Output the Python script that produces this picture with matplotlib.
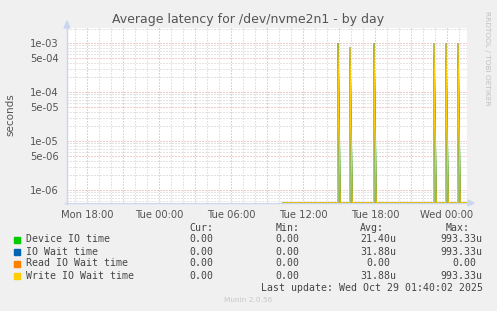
import numpy as np
import matplotlib
matplotlib.use("Agg")
import matplotlib.pyplot as plt
from matplotlib.ticker import FixedLocator, NullFormatter

# ---------------- data (hours since Mon 00:00) ----------------
x_start, x_end = 16 + 20 / 60, 49 + 40 / 60          # Mon 16:20 .. Wed 01:40
data_start = 34 + 20 / 60                            # first stored sample Tue 10:20
spike_hours = [38 + 55/60, 39 + 55/60, 41 + 55/60, 46 + 55/60, 47 + 55/60, 48 + 55/60]
write_peak = [9.93e-4, 8.3e-4, 9.93e-4, 9.93e-4, 9.93e-4, 9.93e-4]
write_tail = [9.0e-7, 9.0e-7, 9.0e-7, 9.0e-7, 9.0e-7, 9.0e-7]
ioWait_peak = write_peak
ioWait_tail = write_tail
device_peak = [9.93e-4, 5.0e-4, 9.93e-4, 6.0e-4, 5.0e-4, 6.0e-4]
device_tail = [1.5e-6, 1.5e-6, 1.5e-6, 1.5e-6, 1.5e-6, 1.5e-6]
read_peak = [0, 0, 0, 0, 0, 0]
read_tail = [0, 0, 0, 0, 0, 0]

x_tick_pos = [18, 24, 30, 36, 42, 48]
x_tick_labels = ["Mon 18:00", "Tue 00:00", "Tue 06:00", "Tue 12:00", "Tue 18:00", "Wed 00:00"]
y_tick_vals = [1e-6, 5e-6, 1e-5, 5e-5, 1e-4, 5e-4, 1e-3]
y_tick_labels = ["1e-06", "5e-06", "1e-05", "5e-05", "1e-04", "5e-04", "1e-03"]

legend_names = ["Device IO time", "IO Wait time", "Read IO Wait time", "Write IO Wait time"]
legend_colors = ["#00CC00", "#0066B3", "#FF8000", "#FFCC00"]
cur_vals = ["0.00", "0.00", "0.00", "0.00"]
min_vals = ["0.00", "0.00", "0.00", "0.00"]
avg_vals = ["21.40u", "31.88u", "0.00", "31.88u"]
max_vals = ["993.33u", "993.33u", "0.00", "993.33u"]

Y_MIN, Y_MAX = 5.45e-7, 2.05e-3
STEP = 5 / 60


def series(peaks, tails):
    t, v = [data_start], [0.0]
    for h, p, tl in zip(spike_hours, peaks, tails):
        t += [h - STEP * 0.3, h, h + 2 * STEP, h + 2.2 * STEP]
        v += [0.0, p, tl, 0.0]
    t.append(x_end)
    v.append(0.0)
    return np.array(t), np.maximum(np.array(v), Y_MIN * 1.01)


W, H = 497, 311
fig = plt.figure(figsize=(W / 100, H / 100), dpi=100, facecolor="#F0F0F0")
L, R, T, B = 67, 467, 28, 203
ax = fig.add_axes([L / W, 1 - B / H, (R - L) / W, (B - T) / H])
ax.set_facecolor("white")
ax.set_yscale("log")
ax.set_xlim(x_start, x_end)
ax.set_ylim(Y_MIN, Y_MAX)

# grid
grey, red = "#C8C8C8", "#E49A9A"
gls = (0, (1, 2))
minor_x = [h for h in range(17, 50)]
major_x = [h for h in range(18, 50, 3)]
for h in minor_x:
    if h not in major_x:
        ax.axvline(h, color=grey, lw=0.72, ls=gls, zorder=1)
for h in major_x:
    ax.axvline(h, color=red, lw=0.72, ls=gls, zorder=1.2)
for dec in [1e-7, 1e-6, 1e-5, 1e-4, 1e-3]:
    for m in range(1, 10):
        yv = dec * m
        if Y_MIN <= yv <= Y_MAX:
            col = red if m in (1, 5) else grey
            ax.axhline(yv, color=col, lw=0.72, ls=gls, zorder=1.2 if m in (1, 5) else 1)

# data
for (pk, tl), col in zip([(device_peak, device_tail), (ioWait_peak, ioWait_tail),
                          (read_peak, read_tail), (write_peak, write_tail)], legend_colors):
    t, v = series(pk, tl)
    ax.plot(t, v, color=col, lw=0.9, zorder=3, solid_joinstyle="miter")

for s in ax.spines.values():
    s.set_visible(False)
ax.yaxis.set_major_locator(FixedLocator(y_tick_vals))
ax.set_yticklabels(y_tick_labels)
ax.yaxis.set_minor_formatter(NullFormatter())
ax.yaxis.set_minor_locator(FixedLocator([]))
ax.set_xticks(x_tick_pos)
ax.set_xticklabels(x_tick_labels)
ax.tick_params(axis="both", length=0, labelsize=7.2, labelcolor="#555555")
ax.tick_params(axis="x", pad=5)
ax.tick_params(axis="y", pad=6)

# axis lines and arrows
def px(x, y):
    return x / W, 1 - y / H

axis_col = "#CCD5F0"
fig.add_artist(plt.Line2D([px(L, 0)[0]] * 2, [px(0, B + 1)[1], px(0, 24)[1]], color=axis_col, lw=1))
fig.add_artist(plt.Line2D([px(L - 2, 0)[0], px(R + 3, 0)[0]], [px(0, B)[1]] * 2, color=axis_col, lw=1, zorder=0))
fig.patches.append(plt.Polygon([px(L - 3, 28), px(L + 3, 28), px(L, 21)], closed=True,
                               transform=fig.transFigure, color=axis_col))
fig.patches.append(plt.Polygon([px(R + 1, B - 3), px(R + 1, B + 3), px(R + 7, B)], closed=True,
                               transform=fig.transFigure, color=axis_col))

# title and labels
fig.text(*px(248, 19), "Average latency for /dev/nvme2n1 - by day", ha="center", va="center",
         fontsize=9.0, color="#555555")
fig.text(*px(10, 115), "seconds", rotation=90, ha="center", va="center", fontsize=7.5, color="#555555")
fig.text(*px(487, 58), "RRDTOOL / TOBI OETIKER", rotation=270, ha="center", va="center",
         fontsize=5.3, color="#C0C0C0")

# legend
mono = "DejaVu Sans Mono"
fs = 7.1
ink = "#444444"
head_y = 227.7
for txt, xr in zip(["Cur:", "Min:", "Avg:", "Max:"], [213.3, 299.3, 384, 470]):
    fig.text(*px(xr, head_y), txt, ha="right", va="center", fontsize=fs, family=mono, color=ink)

row_y = [239.5, 251.6, 263.5, 275.6]
col_right = [219.3, 305.7, 396.7, 482.7]
for i in range(4):
    y = row_y[i]
    fig.patches.append(plt.Rectangle(px(14, y + 3), 6 / W, 6 / H, transform=fig.transFigure,
                                     color=legend_colors[i]))
    fig.text(*px(26, y), legend_names[i], ha="left", va="center", fontsize=fs, family=mono, color=ink)
    for vals, xr in zip([cur_vals, min_vals, avg_vals, max_vals], col_right):
        s = vals[i]
        xx = xr if s.endswith("u") else xr - 5.95
        fig.text(*px(xx, y), s, ha="right", va="center", fontsize=fs, family=mono, color=ink)

fig.text(*px(482.7, 287.7), "Last update: Wed Oct 29 01:40:02 2025", ha="right", va="center",
         fontsize=fs, family=mono, color=ink)
fig.text(*px(248, 300), "Munin 2.0.56", ha="center", va="center", fontsize=5.3, color="#C8C8C8")

fig.savefig("out.png", dpi=100, facecolor=fig.get_facecolor())
